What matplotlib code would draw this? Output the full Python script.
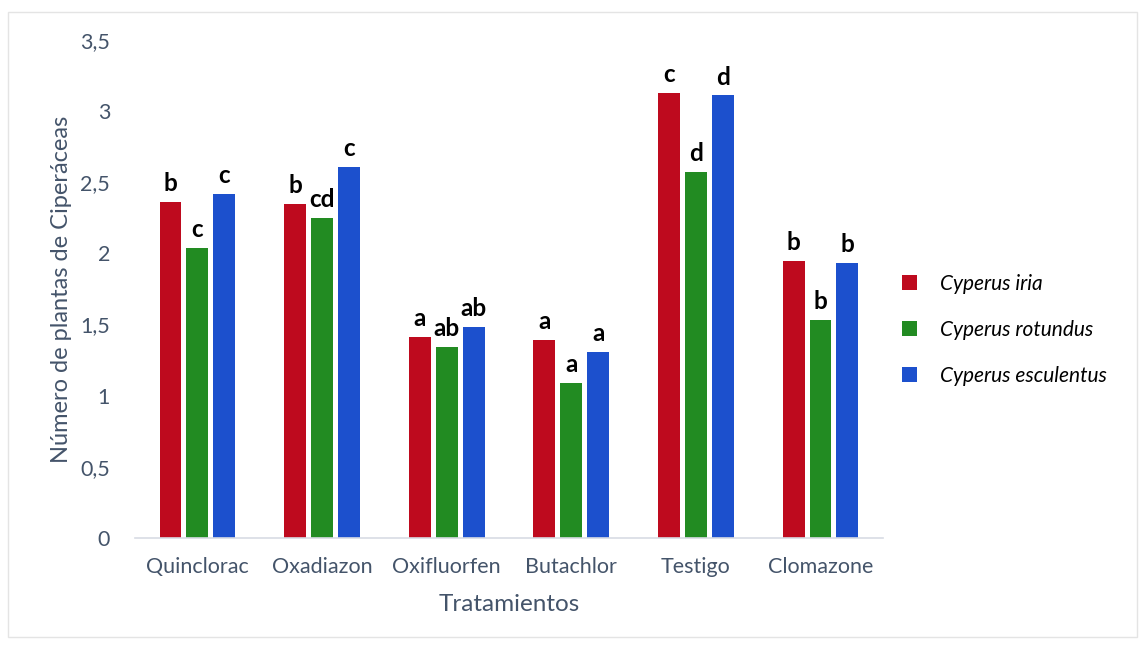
import matplotlib.pyplot as plt
import numpy as np
from matplotlib.ticker import FuncFormatter
from matplotlib.patches import Rectangle

# Treatments and mean number of sedge plants per species
tratamientos = ['Quinclorac', 'Oxadiazon', 'Oxifluorfen', 'Butachlor', 'Testigo', 'Clomazone']
especies = ['Cyperus iria', 'Cyperus rotundus', 'Cyperus esculentus']
iria = [2.36, 2.35, 1.41, 1.39, 3.13, 1.95]
rotundus = [2.04, 2.25, 1.34, 1.09, 2.57, 1.53]
esculentus = [2.42, 2.61, 1.48, 1.31, 3.11, 1.93]

# Mean separation letters
letras_iria = ['b', 'b', 'a', 'a', 'c', 'b']
letras_rotundus = ['c', 'cd', 'ab', 'a', 'd', 'b']
letras_esculentus = ['c', 'c', 'ab', 'a', 'd', 'b']

colores = ['#BE0A1E', '#228B22', '#1C50CD']
texto = '#44546A'

plt.rcParams['font.family'] = ['Lato', 'DejaVu Sans']

fig = plt.figure(figsize=(11.45, 6.45), dpi=100)
ax = fig.add_axes([0.118, 0.166, 0.653, 0.772])

x = np.arange(len(tratamientos))
paso = 0.216
ancho = 0.176

series = [iria, rotundus, esculentus]
letras = [letras_iria, letras_rotundus, letras_esculentus]
for i, (vals, lets) in enumerate(zip(series, letras)):
    pos = x + (i - 1) * paso
    bars = ax.bar(pos, vals, width=ancho, color=colores[i], label=especies[i], zorder=2)
    for b, v, l in zip(bars, vals, lets):
        ax.annotate(l, (b.get_x() + b.get_width() / 2, v), xytext=(0, 5),
                    textcoords='offset points', ha='center', va='bottom',
                    fontsize=17.5, fontweight='bold', color='black')

ax.set_xlim(-0.5, len(tratamientos) - 0.5)
ax.set_ylim(0, 3.5)
ax.set_yticks(np.arange(0, 3.51, 0.5))
ax.yaxis.set_major_formatter(FuncFormatter(lambda v, p: ('%g' % v).replace('.', ',')))
ax.set_xticks(x)
ax.set_xticklabels(tratamientos)

for s in ['top', 'right', 'left']:
    ax.spines[s].set_visible(False)
ax.spines['bottom'].set_color('#D8DCE4')
ax.spines['bottom'].set_linewidth(1.2)
ax.tick_params(axis='both', length=0, labelsize=15.5, colors=texto)
ax.tick_params(axis='y', pad=18)
ax.tick_params(axis='x', pad=14)

ax.set_ylabel('Número de plantas de Ciperáceas', fontsize=17, color=texto, labelpad=6)
ax.set_xlabel('Tratamientos', fontsize=17.5, color=texto, labelpad=12)

leg = ax.legend(loc='center left', bbox_to_anchor=(1.0, 0.418), frameon=False,
                handlelength=0.75, handleheight=0.75, labelspacing=1.25,
                handletextpad=1.1, prop={'style': 'italic', 'size': 15})

# light frame around the chart area
fig.patches.append(Rectangle((0.007, 0.012), 0.986, 0.97, transform=fig.transFigure,
                             fill=False, edgecolor='#E4E4E4', linewidth=1))

fig.savefig('out.png', dpi=100)
